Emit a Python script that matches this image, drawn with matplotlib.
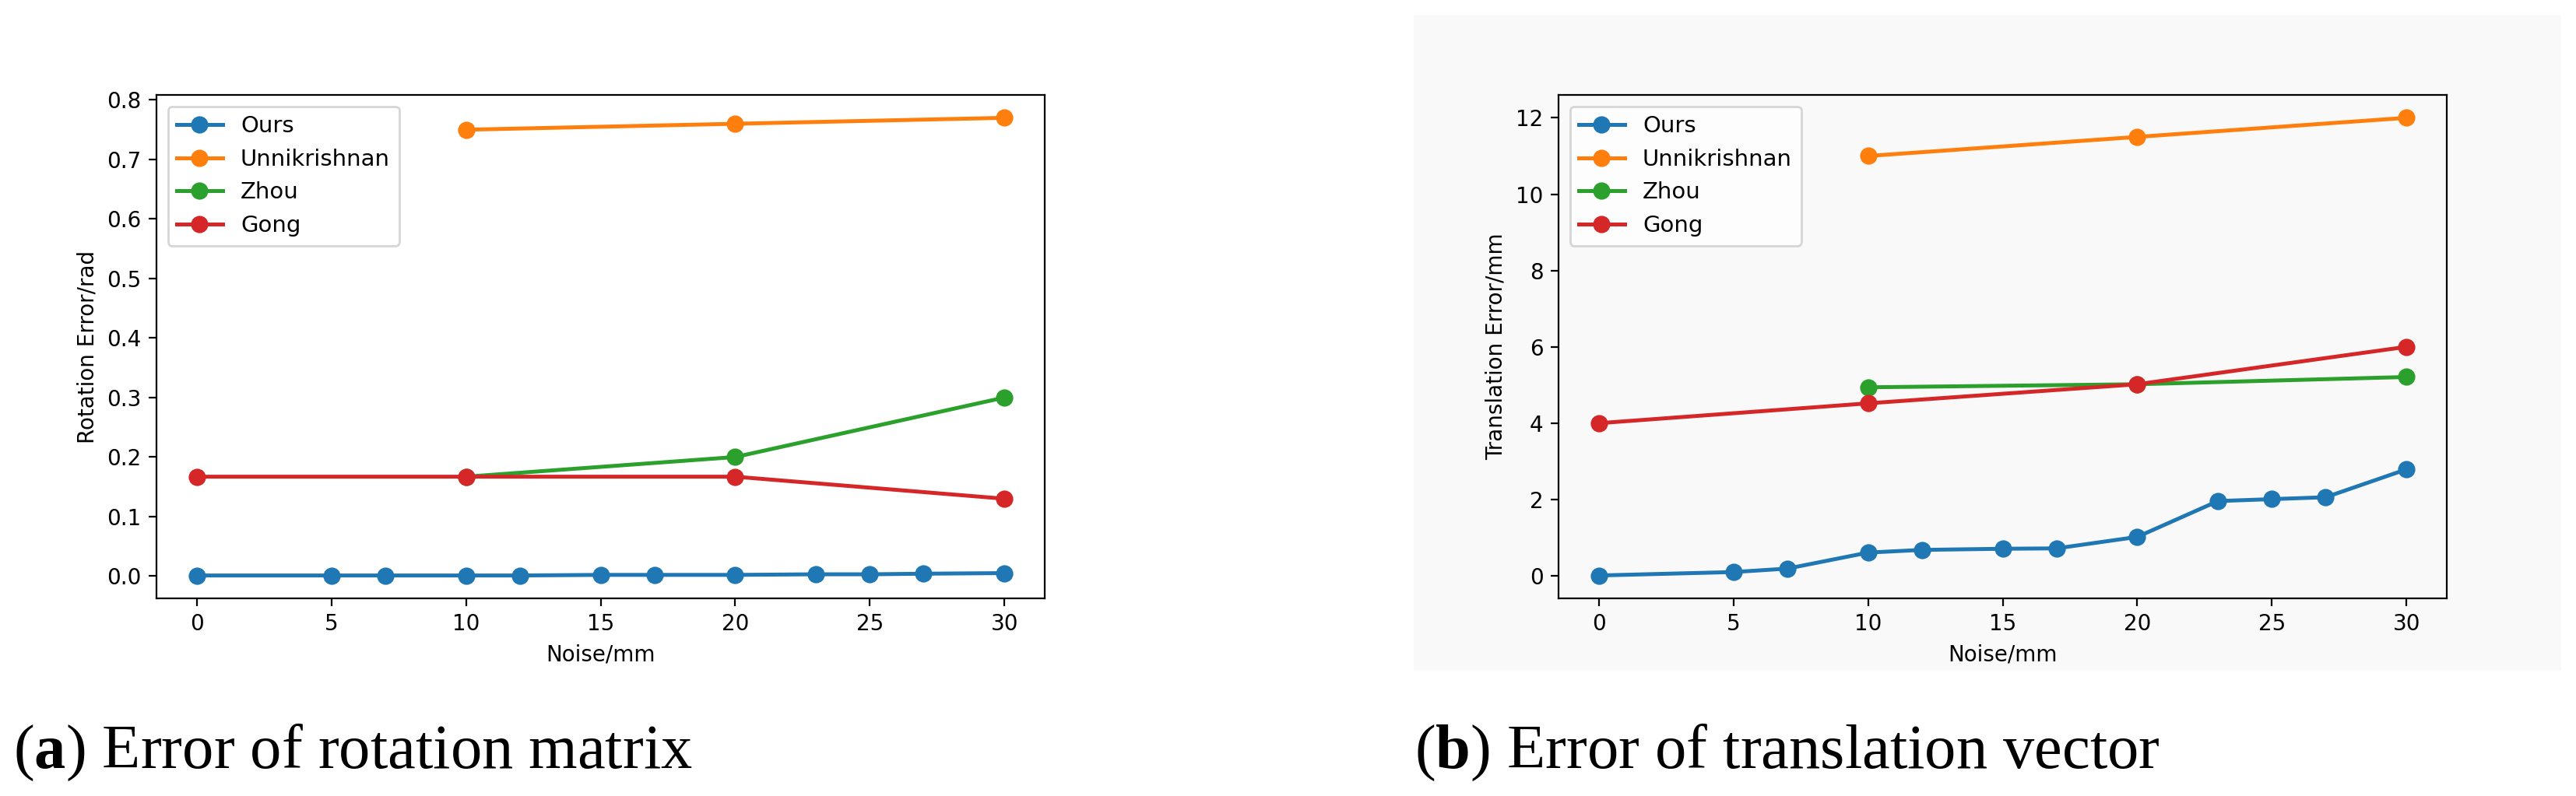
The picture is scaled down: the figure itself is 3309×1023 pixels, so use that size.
import matplotlib

matplotlib.use("Agg")
import matplotlib.pyplot as plt
from matplotlib.patches import Rectangle

# Noise levels (mm)
noise_ours = [0, 5, 7, 10, 12, 15, 17, 20, 23, 25, 27, 30]
noise_unni = [10, 20, 30]
noise_zhou = [10, 20, 30]
noise_gong = [0, 10, 20, 30]

# Rotation error (rad)
rot_ours = [0.001, 0.001, 0.001, 0.001, 0.001, 0.002, 0.002, 0.002, 0.003, 0.003, 0.004, 0.005]
rot_unni = [0.75, 0.76, 0.77]
rot_zhou = [0.167, 0.20, 0.30]
rot_gong = [0.167, 0.167, 0.167, 0.13]

# Translation error (mm)
tra_ours = [0.01, 0.10, 0.19, 0.61, 0.68, 0.71, 0.72, 1.02, 1.96, 2.01, 2.06, 2.79]
tra_unni = [11.0, 11.5, 12.0]
tra_zhou = [4.94, 5.02, 5.21]
tra_gong = [4.0, 4.52, 5.02, 6.0]

labels = ["Ours", "Unnikrishnan", "Zhou", "Gong"]
colors = ["#1f77b4", "#ff7f0e", "#2ca02c", "#d62728"]

plt.rcParams["mathtext.fontset"] = "custom"
plt.rcParams["mathtext.rm"] = "Liberation Serif"
plt.rcParams["mathtext.bf"] = "Liberation Serif:bold"

W, H = 3309, 1023
fig = plt.figure(figsize=(W / 200, H / 200), dpi=200)
fig.patch.set_facecolor("white")

# light grey backdrop behind panel (b)
bg = "#f9f9f9"
fig.add_artist(
    Rectangle((1816 / W, 1 - 862 / H), (3290 - 1816) / W, (862 - 19) / H,
              transform=fig.transFigure, facecolor=bg, edgecolor="none", zorder=0)
)


def draw_panel(ax, series, ylabel):
    xs = [noise_ours, noise_unni, noise_zhou, noise_gong]
    for x, y, lab, c in zip(xs, series, labels, colors):
        ax.plot(x, y, marker="o", color=c, label=lab, linewidth=1.8, markersize=7)
    ax.set_xlabel("Noise/mm")
    ax.set_ylabel(ylabel)
    ax.legend(loc="upper left", fontsize=10.5)


ax1 = fig.add_axes([201 / W, 1 - 769 / H, 1141 / W, 647 / H])
draw_panel(ax1, [rot_ours, rot_unni, rot_zhou, rot_gong], "Rotation Error/rad")

ax2 = fig.add_axes([2002 / W, 1 - 769 / H, 1141 / W, 647 / H])
ax2.set_facecolor(bg)
draw_panel(ax2, [tra_ours, tra_unni, tra_zhou, tra_gong], "Translation Error/mm")
ax2.set_yticks([0, 2, 4, 6, 8, 10, 12])

cap = {"fontsize": 29, "family": "Liberation Serif", "va": "baseline"}
fig.text(17 / W, 1 - 987 / H, r"($\mathbf{a}$) Error of rotation matrix", **cap)
fig.text(1817 / W, 1 - 987 / H, r"($\mathbf{b}$) Error of translation vector", **cap)

fig.savefig("out.png", dpi=200)
